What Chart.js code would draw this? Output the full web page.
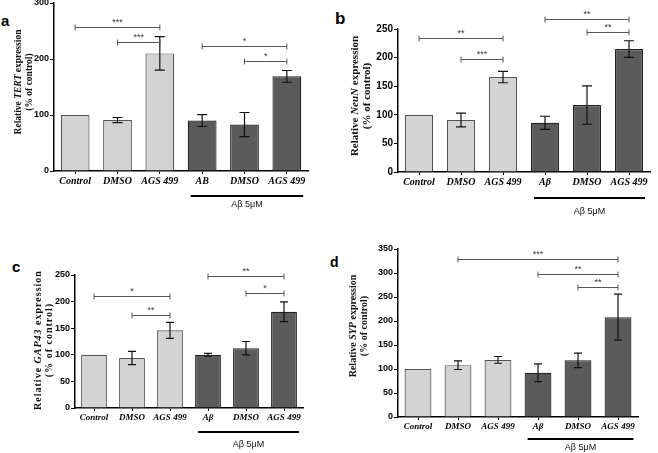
<!DOCTYPE html>
<html>
<head>
<meta charset="utf-8">
<script src="https://cdn.jsdelivr.net/npm/chart.js@4.4.1/dist/chart.umd.min.js"></script>
<style>
  body { margin: 0; background: #fff; width: 658px; height: 453px; overflow: hidden; position: relative; }
  canvas { position: absolute; }
  .letter { position: absolute; font-family: 'Liberation Sans', Arial, sans-serif; font-weight: bold; line-height: normal; }
</style>
</head>
<body>
<div class="letter" style="left:1px;top:12px;font-size:15px">a</div>
<div class="letter" style="left:335px;top:9px;font-size:17px">b</div>
<div class="letter" style="left:12px;top:258px;font-size:15px">c</div>
<div class="letter" style="left:330px;top:254px;font-size:14px">d</div>

<script>
// categories (panel a prints "AB" under the fourth bar)
const categoriesA = ['Control', 'DMSO', 'AGS 499', 'AB', 'DMSO', 'AGS 499'];
const categories = ['Control', 'DMSO', 'AGS 499', 'Aβ', 'DMSO', 'AGS 499'];

// a - TERT
const tertMean = [100, 91, 210, 90, 83, 169];
const tertErr = [0, 4.5, 30, 10.5, 21.5, 10.5];
const tertSig = [[0, 2, 257, '***'], [1, 2, 230, '***'], [3, 5, 223, '*'], [4, 5, 196, '*']];
const tertMax = 300, tertStep = 100;

// b - NeuN
const neunMean = [100, 91, 166, 86, 117, 215];
const neunErr = [0, 12, 10, 11.5, 33.5, 14.5];
const neunSig = [[0, 2, 234, '**'], [1, 2, 198, '***'], [3, 5, 268, '**'], [4, 5, 244, '**']];
const neunMax = 250, neunStep = 50;

// c - GAP43
const gapMean = [100, 94, 146, 100, 112.5, 181];
const gapErr = [0, 12.5, 15, 2.5, 12.5, 18.5];
const gapSig = [[0, 2, 211, '*'], [1, 2, 175, '**'], [3, 5, 248, '**'], [4, 5, 216, '*']];
const gapMax = 250, gapStep = 50;

// d - SYP
const sypMean = [100, 108, 119, 92, 118, 208];
const sypErr = [0, 9, 7, 18.5, 15, 48];
const sypSig = [[1, 5, 330, '***'], [3, 5, 298, '**'], [4, 5, 270, '**']];
const sypMax = 350, sypStep = 50;

const treatLabel = 'Aβ 5μM';

const light = '#d3d3d3', dark = '#5b5b5b';
const fills = [light, light, light, dark, dark, dark];
const edges = ['#555', '#555', '#555', '#222', '#222', '#222'];

function makePanel(p) {
  const canvas = document.createElement('canvas');
  const cTop = p.top - p.padTop;
  const w = p.right + p.padRight - p.x0;
  const h = p.bottom + p.below - cTop;
  canvas.width = w; canvas.height = h;
  canvas.style.left = p.x0 + 'px';
  canvas.style.top = cTop + 'px';
  canvas.style.width = w + 'px';
  canvas.style.height = h + 'px';
  document.body.appendChild(canvas);

  const overlay = {
    id: 'overlay',
    afterDatasetsDraw(chart) {
      const ctx = chart.ctx;
      const ys = chart.scales.y;
      const bars = chart.getDatasetMeta(0).data;
      ctx.save();
      // error bars
      ctx.strokeStyle = '#111';
      ctx.lineWidth = 1.2;
      p.mean.forEach((m, i) => {
        if (!p.err[i]) return;
        const x = bars[i].x;
        const y1 = ys.getPixelForValue(m + p.err[i]);
        const y2 = ys.getPixelForValue(m - p.err[i]);
        ctx.beginPath();
        ctx.moveTo(x, y1); ctx.lineTo(x, y2);
        ctx.moveTo(x - p.cap, y1); ctx.lineTo(x + p.cap, y1);
        ctx.moveTo(x - p.cap, y2); ctx.lineTo(x + p.cap, y2);
        ctx.stroke();
      });
      // significance brackets
      ctx.strokeStyle = '#555';
      ctx.lineWidth = 1;
      ctx.fillStyle = '#333';
      ctx.font = '9px "Liberation Sans", Arial, sans-serif';
      ctx.textAlign = 'center';
      ctx.textBaseline = 'alphabetic';
      p.sig.forEach(([a, b, v, stars]) => {
        const x1 = bars[a].x, x2 = bars[b].x;
        const y = Math.round(ys.getPixelForValue(v)) + 0.5;
        ctx.beginPath();
        ctx.moveTo(x1, y); ctx.lineTo(x2, y);
        ctx.moveTo(x1, y - 3); ctx.lineTo(x1, y + 3);
        ctx.moveTo(x2, y - 3); ctx.lineTo(x2, y + 3);
        ctx.stroke();
        ctx.fillText(stars, (x1 + x2) / 2, y - 3);
      });
      ctx.restore();
    },
    afterDraw(chart) {
      const ctx = chart.ctx;
      const area = chart.chartArea;
      const bars = chart.getDatasetMeta(0).data;
      ctx.save();
      // treatment underline + label
      const lx1 = bars[3].x - bars[3].width / 2 + 3;
      const lx2 = bars[5].x + bars[5].width / 2 + 2;
      ctx.strokeStyle = '#000';
      ctx.lineWidth = 2;
      ctx.beginPath();
      ctx.moveTo(lx1, area.bottom + p.lineOff);
      ctx.lineTo(lx2, area.bottom + p.lineOff);
      ctx.stroke();
      ctx.fillStyle = '#111';
      ctx.font = '9px "Liberation Sans", Arial, sans-serif';
      ctx.textAlign = 'center';
      ctx.textBaseline = 'middle';
      ctx.fillText(treatLabel, (lx1 + lx2) / 2, area.bottom + p.textOff);

      // y title, two lines, gene name in italics
      const fam = '"Liberation Serif", "Times New Roman", serif';
      const plain = 'bold ' + p.titleSize + 'px ' + fam;
      const ital = 'italic bold ' + p.titleSize + 'px ' + fam;
      if (p.spacing) ctx.letterSpacing = p.spacing + 'px';
      const parts = [['Relative ', plain], [p.gene, ital], [' expression', plain]];
      const cy = p.titleY - (p.top - p.padTop);
      const drawLine = (segs, xPage) => {
        let total = 0;
        segs.forEach(([t, f]) => { ctx.font = f; total += ctx.measureText(t).width; });
        ctx.save();
        ctx.translate(xPage - p.x0, cy);
        ctx.rotate(-Math.PI / 2);
        ctx.textAlign = 'left';
        ctx.textBaseline = 'middle';
        ctx.fillStyle = '#111';
        let x = -total / 2;
        segs.forEach(([t, f]) => { ctx.font = f; ctx.fillText(t, x, 0); x += ctx.measureText(t).width; });
        ctx.restore();
      };
      drawLine(parts, p.titleX1);
      drawLine([['(% of control)', plain]], p.titleX2);
      ctx.restore();
    }
  };

  new Chart(canvas, {
    type: 'bar',
    data: {
      labels: p.labels,
      datasets: [{
        data: p.mean,
        backgroundColor: fills,
        borderColor: edges,
        borderWidth: 1.2,
        barPercentage: p.barPct,
        categoryPercentage: 1
      }]
    },
    options: {
      responsive: false,
      animation: false,
      layout: { padding: { top: p.padTop, right: p.padRight, left: 0, bottom: 0 } },
      plugins: { legend: { display: false }, tooltip: { enabled: false } },
      scales: {
        x: {
          grid: { display: true, drawOnChartArea: false, offset: false, tickLength: 3, color: '#000' },
          border: { color: '#000', width: 1.5 },
          ticks: { color: '#000', font: p.xFont, padding: 1, maxRotation: 0, autoSkip: false },
          afterFit: s => { s.height = p.below; }
        },
        y: {
          min: 0, max: p.yMax,
          grid: { drawOnChartArea: false, tickLength: 4, color: '#000' },
          border: { color: '#000', width: 1.5 },
          ticks: { stepSize: p.step, color: '#000', font: p.yFont, padding: 1 },
          afterFit: s => { s.width = p.left - p.x0; }
        }
      }
    },
    plugins: [overlay]
  });
}

const sans = '"Liberation Sans", Arial, sans-serif';
const serif = '"Liberation Serif", "Times New Roman", serif';

makePanel({
  labels: categoriesA, mean: tertMean, err: tertErr, sig: tertSig, yMax: tertMax, step: tertStep, gene: 'TERT',
  x0: 0, left: 54, top: 3, right: 308, bottom: 171, padTop: 8, padRight: 14, below: 46,
  yFont: { family: sans, weight: 'bold', size: 9 },
  xFont: { family: serif, weight: 'bold', style: 'italic', size: 10 },
  barPct: 0.68, cap: 5, titleSize: 9.5, titleX1: 19, titleX2: 30, titleY: 82, lineOff: 25, textOff: 34
});

makePanel({
  labels: categories, mean: neunMean, err: neunErr, sig: neunSig, yMax: neunMax, step: neunStep, gene: 'NeuN',
  x0: 330, left: 398, top: 29, right: 650, bottom: 172, padTop: 25, padRight: 6, below: 50,
  yFont: { family: sans, weight: 'bold', size: 10 },
  xFont: { family: serif, weight: 'bold', style: 'italic', size: 10 },
  barPct: 0.67, cap: 5, titleSize: 11, titleX1: 355, titleX2: 367, titleY: 96, lineOff: 26, textOff: 40
});

makePanel({
  labels: categories, mean: gapMean, err: gapErr, sig: gapSig, yMax: gapMax, step: gapStep, gene: 'GAP43',
  x0: 0, left: 75, top: 275, right: 303, bottom: 408, padTop: 12, padRight: 12, below: 45,
  yFont: { family: sans, weight: 'bold', size: 9 },
  xFont: { family: serif, weight: 'bold', style: 'italic', size: 9 },
  barPct: 0.68, cap: 4, titleSize: 10, spacing: 1, titleX1: 38, titleX2: 49, titleY: 340, lineOff: 24, textOff: 37
});

makePanel({
  labels: categories, mean: sypMean, err: sypErr, sig: sypSig, yMax: sypMax, step: sypStep, gene: 'SYP',
  x0: 330, left: 398, top: 249, right: 638, bottom: 417, padTop: 10, padRight: 12, below: 36,
  yFont: { family: sans, weight: 'bold', size: 9 },
  xFont: { family: serif, weight: 'bold', style: 'italic', size: 9 },
  barPct: 0.67, cap: 4, titleSize: 10, titleX1: 353, titleX2: 364, titleY: 326, lineOff: 22, textOff: 31
});
</script>
</body>
</html>
